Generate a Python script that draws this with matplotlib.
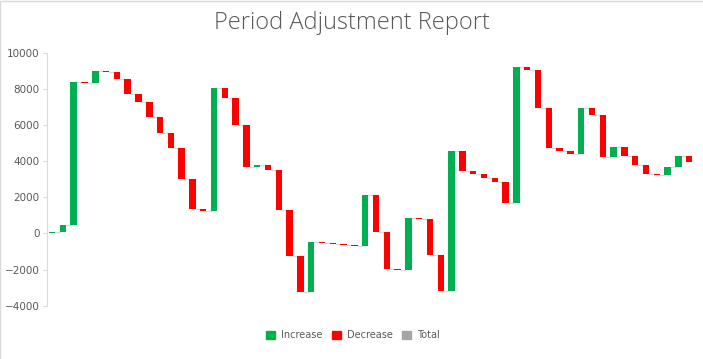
import numpy as np
import matplotlib.pyplot as plt
from matplotlib.patches import Patch
from matplotlib.lines import Line2D

# period adjustments (waterfall deltas)
deltas = [60, 380, 7940, -80, 670, -60, -370, -810, -460, -830,
          -880, -830, -1700, -1680, -100, 6800, -560, -1490, -2320, 110,
          -280, -2210, -2540, -1990, 2760, -50, -60, -55, -55, 2820,
          -2060, -2030, -50, 2870, -60, -1990, -1990, 7740, -1110, -160,
          -220, -220, -1160, 7520, -170, -2100, -2210, -160, -170, 2540,
          -390, -2320, 550, -500, -490, -500, -50, 440, 600, -330]
y_ticks = [-4000, -2000, 0, 2000, 4000, 6000, 8000, 10000]
legend_labels = ["Increase", "Decrease", "Total"]

GREEN = "#00B050"
RED = "#FF0000"
GRAY = "#A5A5A5"
TEXT = "#595959"

vals = np.array(deltas, dtype=float)
ends = np.cumsum(vals)
starts = ends - vals
x = np.arange(len(vals))
colors = [GREEN if v >= 0 else RED for v in vals]

fig = plt.figure(figsize=(7.03, 3.59), dpi=100, facecolor="white")
ax = fig.add_axes([0.0664, 0.1485, 0.9216, 0.7047])

w = 0.6
ax.bar(x, vals, bottom=starts, width=w, color=colors, zorder=3)

# connector lines between bars
for i in range(len(vals) - 1):
    ax.plot([x[i] + w / 2, x[i + 1] - w / 2], [ends[i], ends[i]],
            color="#D9D9D9", linewidth=1, zorder=2)

ax.set_xlim(-0.5, len(vals) - 0.5)
ax.set_ylim(-4000, 10000)
ax.set_yticks(y_ticks)
ax.set_xticks([])
ax.tick_params(axis="y", colors=TEXT, labelsize=7.5, length=3, width=0.8,
               color="#D9D9D9", pad=2)
for s in ["top", "right", "bottom"]:
    ax.spines[s].set_visible(False)
ax.spines["left"].set_color("#D9D9D9")

fig.text(0.5, 0.937, "Period Adjustment Report", ha="center", va="center",
         fontsize=17, color=TEXT, family="Open Sans", fontweight="light")

handles = [Patch(color=GREEN), Patch(color=RED), Patch(color=GRAY)]
fig.legend(handles, legend_labels, loc="center", bbox_to_anchor=(0.502, 0.067),
           ncol=3, frameon=False, fontsize=7, labelcolor=TEXT,
           handlelength=0.9, handleheight=0.9, handletextpad=0.6,
           columnspacing=1.0)

# chart-area border (only top and left edges show in the reference)
fig.add_artist(Line2D([0.0007, 0.0007, 1], [0, 0.9986, 0.9986],
                      transform=fig.transFigure, color="#D9D9D9", linewidth=1))

plt.savefig("out.png", dpi=100, facecolor="white")
plt.close()
